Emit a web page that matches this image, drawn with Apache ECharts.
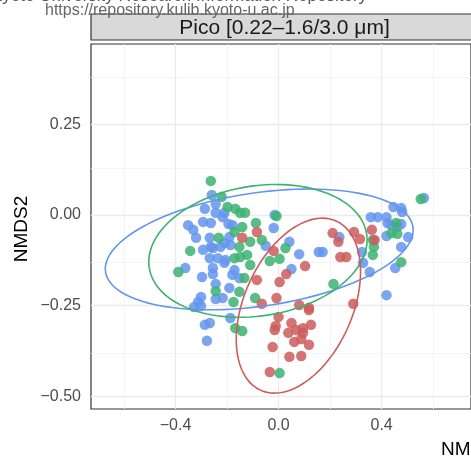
<!DOCTYPE html>
<html>
<head>
<meta charset="utf-8">
<script src="https://cdn.jsdelivr.net/npm/echarts@6/dist/echarts.min.js"></script>
<style>
  html, body { margin: 0; padding: 0; background: #fff; }
  #chart { width: 471px; height: 461px; }
</style>
</head>
<body>
<div id="chart"></div>
<script>
// NMDS site scores (NMDS1, NMDS2)
const blueSites = [
  [0.564, 0.047], [0.446, 0.022], [0.476, 0.019], [0.480, 0.008], [0.385, -0.006],
  [0.358, -0.006], [0.419, -0.006], [0.423, -0.022], [0.461, -0.033], [0.476, -0.025],
  [0.438, -0.028], [0.419, -0.058], [0.503, -0.061], [0.476, -0.088], [0.453, -0.146],
  [0.419, -0.221], [0.324, -0.102], [0.328, -0.132], [0.354, -0.157], [0.236, -0.061],
  [0.156, -0.102], [0.171, -0.102], [0.080, -0.108], [0.050, -0.149], [0.042, -0.074],
  [-0.019, -0.036], [-0.015, 0.000], [-0.050, -0.085], [-0.259, 0.055], [-0.286, 0.017],
  [-0.244, 0.030], [-0.244, 0.006], [-0.210, 0.006], [-0.217, -0.006], [-0.293, -0.019],
  [-0.263, -0.022], [-0.351, -0.028], [-0.331, -0.041], [-0.194, -0.025], [-0.179, -0.028],
  [-0.320, -0.063], [-0.267, -0.063], [-0.263, -0.088], [-0.191, -0.061], [-0.210, -0.077],
  [-0.293, -0.096], [-0.255, -0.091], [-0.225, -0.088], [-0.187, -0.083], [-0.267, -0.119],
  [-0.236, -0.119], [-0.206, -0.124], [-0.362, -0.146], [-0.255, -0.146], [-0.210, -0.132],
  [-0.171, -0.152], [-0.255, -0.163], [-0.297, -0.171], [-0.179, -0.165], [-0.152, -0.174],
  [-0.244, -0.190], [-0.191, -0.201], [-0.301, -0.226], [-0.244, -0.232], [-0.217, -0.229],
  [-0.312, -0.240], [-0.328, -0.254], [-0.301, -0.251], [-0.187, -0.284], [-0.286, -0.303],
  [-0.267, -0.298], [-0.278, -0.347]
];
const greenSites = [
  [0.552, 0.044], [0.457, -0.022], [0.438, -0.050], [0.461, -0.052], [0.476, -0.130],
  [0.366, -0.069], [0.370, -0.088], [0.366, -0.110], [0.213, -0.190], [-0.263, 0.094],
  [-0.221, 0.050], [-0.198, 0.022], [-0.168, 0.017], [-0.149, 0.006], [-0.130, 0.006],
  [-0.088, -0.022], [-0.141, -0.033], [-0.171, -0.047], [-0.232, -0.063], [-0.110, -0.074],
  [-0.065, -0.069], [-0.008, -0.003], [0.027, -0.091], [-0.034, -0.127], [0.004, -0.121],
  [-0.122, -0.110], [-0.171, -0.119], [-0.149, -0.116], [-0.343, -0.099], [-0.389, -0.157],
  [-0.244, -0.210], [-0.152, -0.212], [-0.175, -0.240], [-0.091, -0.229], [-0.168, -0.312],
  [-0.141, -0.320], [0.004, -0.436], [-0.110, -0.138], [-0.133, -0.174], [-0.152, -0.088]
];
const redSites = [
  [-0.141, -0.063], [-0.084, -0.047], [-0.019, -0.099], [0.030, -0.163], [0.103, -0.141],
  [0.004, -0.185], [-0.084, -0.179], [-0.065, -0.245], [-0.008, -0.229], [0.080, -0.248],
  [0.118, -0.256], [0.000, -0.281], [0.050, -0.298], [-0.011, -0.306], [-0.015, -0.317],
  [0.095, -0.312], [0.126, -0.303], [0.038, -0.325], [0.095, -0.325], [0.061, -0.350],
  [0.088, -0.342], [0.118, -0.358], [-0.023, -0.364], [0.042, -0.391], [0.088, -0.389],
  [-0.034, -0.433], [0.118, -0.262], [0.210, -0.050], [0.232, -0.074], [0.293, -0.047],
  [0.316, -0.066], [0.240, -0.116], [0.263, -0.116], [0.362, -0.041], [0.373, -0.069],
  [0.290, -0.245], [0.069, -0.317]
];

// 95% ellipses: centre x, centre y, semi-axis a, semi-axis b, tilt (deg)
const blueEllipse = [-0.075, -0.095, 0.60, 0.157, 5.5];
const greenEllipse = [-0.080, -0.099, 0.425, 0.180, 5];
const redEllipse = [0.077, -0.250, 0.284, 0.189, 45];

const xTicks = [-0.4, 0, 0.4];
const yTicks = [-0.5, -0.25, 0, 0.25];
const xMinor = [-0.6, -0.2, 0.2, 0.6];
const yMinor = [-0.375, -0.125, 0.125, 0.375];

const fmt = (v, d) => v.toFixed(d).replace('-', '\u2212');

const chart = echarts.init(document.getElementById('chart'));

const pointSeries = (data, color) => ({
  type: 'scatter',
  data: data,
  symbolSize: 10.5,
  z: 10,
  itemStyle: { color: color, opacity: 0.85 },
  silent: true
});

const ellipseSeries = (params, color) => ({
  type: 'custom',
  z: 11,
  silent: true,
  data: [params],
  renderItem: (p, api) => {
    const [cx, cy, a, b, deg] = params;
    const t = deg * Math.PI / 180;
    const pts = [];
    for (let i = 0; i <= 120; i++) {
      const u = i / 120 * 2 * Math.PI;
      const ex = a * Math.cos(u), ey = b * Math.sin(u);
      pts.push(api.coord([cx + ex * Math.cos(t) - ey * Math.sin(t),
                          cy + ex * Math.sin(t) + ey * Math.cos(t)]));
    }
    return { type: 'polyline', shape: { points: pts },
             style: { stroke: color, fill: null, lineWidth: 1.6 } };
  }
});

const gridLines = (vals, key, color, width) =>
  vals.map(v => ({ [key]: v, lineStyle: { color: color, width: width, type: 'solid' } }));

const option = {
  backgroundColor: '#fff',
  animation: false,
  textStyle: { fontFamily: 'Liberation Sans, Arial, sans-serif' },
  grid: {
    left: 91, top: 44, width: 387, height: 365,
    show: true, backgroundColor: '#fff', borderColor: '#333', borderWidth: 1.2
  },
  xAxis: {
    type: 'value', min: -0.728, max: 0.747,
    splitLine: { show: false },
    axisLine: { show: false },
    axisTick: { show: true, customValues: xTicks, length: 5, lineStyle: { color: '#333' } },
    axisLabel: { customValues: xTicks, formatter: v => fmt(v, 1), color: '#4D4D4D', fontSize: 16, margin: 9 }
  },
  yAxis: {
    type: 'value', min: -0.535, max: 0.4715,
    splitLine: { show: false },
    axisLine: { show: false },
    axisTick: { show: true, customValues: yTicks, length: 5, lineStyle: { color: '#333' } },
    axisLabel: { customValues: yTicks, formatter: v => fmt(v, 2), color: '#4D4D4D', fontSize: 16, margin: 10 }
  },
  graphic: [
    { type: 'text', left: -9, top: -12, z: 1,
      style: { text: 'Kyoto University Research Information Repository', fill: '#555', fontSize: 17,
               fontFamily: 'Liberation Sans, Arial, sans-serif' } },
    { type: 'rect', shape: { x: 91, y: 14, width: 400, height: 26 }, z: 2,
      style: { fill: '#D9D9D9', stroke: '#333', lineWidth: 1.2 } },
    { type: 'text', x: 45, y: 19, z: 3,
      style: { text: 'https://repository.kulib.kyoto-u.ac.jp', fill: '#666', fontSize: 16,
               textVerticalAlign: 'bottom', fontFamily: 'Liberation Sans, Arial, sans-serif' } },
    { type: 'text', x: 284.5, y: 28, z: 4,
      style: { text: 'Pico [0.22\u20131.6/3.0 \u03bcm]', fill: '#1A1A1A', fontSize: 21,
               textAlign: 'center', textVerticalAlign: 'middle', fontFamily: 'Liberation Sans, Arial, sans-serif' } },
    { type: 'text', x: 22, y: 229, rotation: Math.PI / 2, z: 4,
      style: { text: 'NMDS2', fill: '#000', fontSize: 19,
               textAlign: 'center', textVerticalAlign: 'middle', fontFamily: 'Liberation Sans, Arial, sans-serif' } },
    { type: 'text', x: 441, y: 450, z: 4,
      style: { text: 'NMDS1', fill: '#000', fontSize: 19,
               textVerticalAlign: 'middle', fontFamily: 'Liberation Sans, Arial, sans-serif' } }
  ],
  series: [
    {
      type: 'line', data: [], z: 1, silent: true,
      markLine: {
        silent: true, symbol: 'none', label: { show: false }, animation: false,
        data: [].concat(
          gridLines(xMinor, 'xAxis', '#F2F2F2', 0.8),
          gridLines(yMinor, 'yAxis', '#F2F2F2', 0.8),
          gridLines(xTicks, 'xAxis', '#EBEBEB', 1.3),
          gridLines(yTicks, 'yAxis', '#EBEBEB', 1.3)
        )
      }
    },
    pointSeries(blueSites, '#6495ED'),
    pointSeries(greenSites, '#3CB371'),
    pointSeries(redSites, '#CD5C5C'),
    ellipseSeries(blueEllipse, '#6495ED'),
    ellipseSeries(greenEllipse, '#3CB371'),
    ellipseSeries(redEllipse, '#CD5C5C')
  ]
};

chart.setOption(option);
window.addEventListener('resize', () => chart && chart.resize());
</script>
</body>
</html>
